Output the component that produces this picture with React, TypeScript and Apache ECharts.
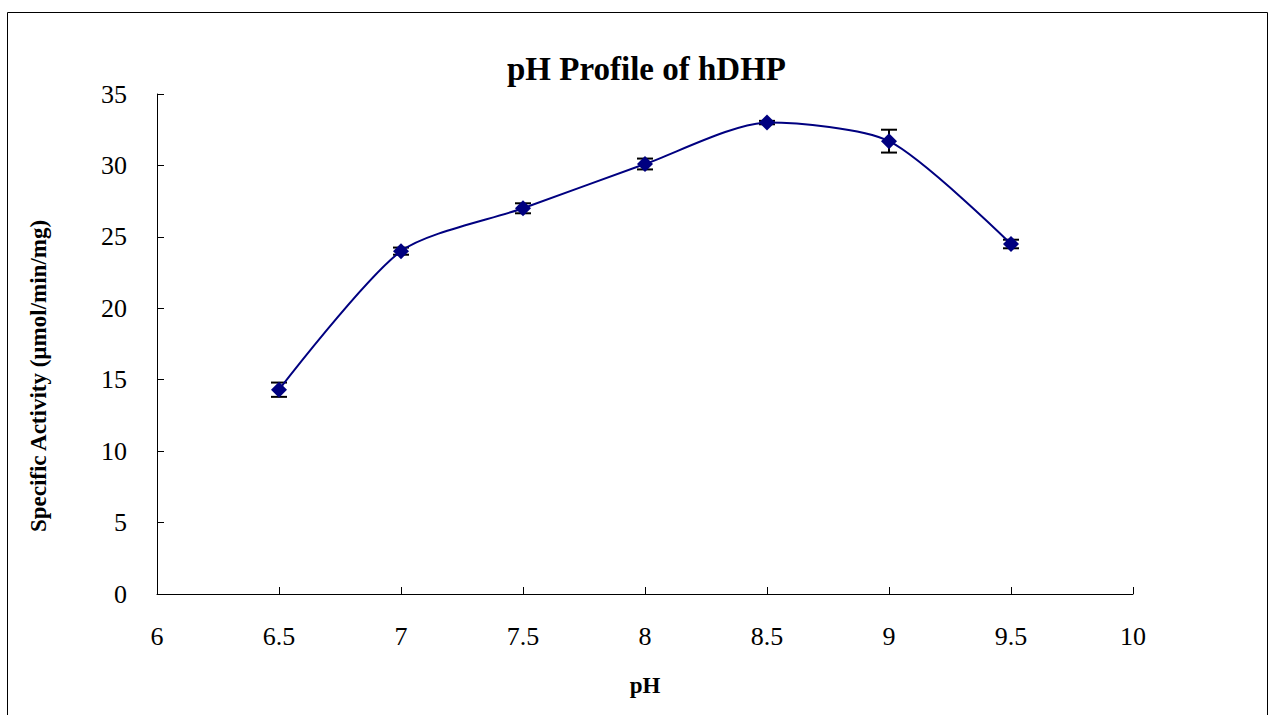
import React, { useEffect, useRef } from "react";
import * as echarts from "echarts";

const phValues = [6.5, 7, 7.5, 8, 8.5, 9, 9.5];
const activity = [14.3, 24.0, 27.0, 30.1, 33.0, 31.7, 24.5];
const errors = [0.5, 0.25, 0.35, 0.38, 0.12, 0.8, 0.3];
const titleText = "pH Profile of hDHP";
const xName = "pH";
const yName = "Specific Activity (µmol/min/mg)";

const FONT = "'Liberation Serif', 'Times New Roman', serif";

export default function App() {
  const ref = useRef<HTMLDivElement>(null);
  useEffect(() => {
    if (!ref.current) return;
    const chart = echarts.init(ref.current, null, { renderer: "svg" });
    const lineData = phValues.map((x, i) => [x, activity[i]]);
    const errData = phValues.map((x, i) => [x, activity[i] - errors[i], activity[i] + errors[i]]);
    chart.setOption({
      animation: false,
      backgroundColor: "#ffffff",
      title: {
        text: titleText,
        left: 502,
        top: 47,
        textStyle: { fontFamily: FONT, fontSize: 33, fontWeight: "bold", color: "#000" },
      },
      graphic: [
        {
          type: "rect",
          shape: { x: 7.5, y: 12.5, width: 1260, height: 720 },
          style: { fill: "none", stroke: "#000", lineWidth: 1 },
          silent: true,
        },
        {
          type: "text",
          x: 38,
          y: 376,
          rotation: Math.PI / 2,
          style: {
            text: yName,
            fontFamily: FONT,
            fontSize: 23,
            fontWeight: "bold",
            fill: "#000",
            align: "center",
            verticalAlign: "middle",
          },
          silent: true,
        },
      ],
      grid: { left: 157, right: 139, top: 94, bottom: 121 },
      xAxis: {
        type: "value",
        min: 6,
        max: 10,
        interval: 0.5,
        name: xName,
        nameLocation: "middle",
        nameGap: 80,
        nameTextStyle: { fontFamily: FONT, fontSize: 23, fontWeight: "bold", color: "#000" },
        axisLine: { show: true, lineStyle: { color: "#000", width: 1 } },
        axisTick: { show: true, inside: true, length: 7, lineStyle: { color: "#000" } },
        axisLabel: { fontFamily: FONT, fontSize: 26, color: "#000", margin: 29 },
        splitLine: { show: false },
      },
      yAxis: {
        type: "value",
        min: 0,
        max: 35,
        interval: 5,
        axisLine: { show: true, lineStyle: { color: "#000", width: 1 } },
        axisTick: { show: true, inside: true, length: 7, lineStyle: { color: "#000" } },
        axisLabel: { fontFamily: FONT, fontSize: 26, color: "#000", margin: 30 },
        splitLine: { show: false },
      },
      series: [
        {
          type: "line",
          data: lineData,
          smooth: 0.25,
          symbol: "diamond",
          symbolSize: 16,
          lineStyle: { color: "#000080", width: 2 },
          itemStyle: { color: "#000080" },
          z: 3,
        },
        {
          type: "custom",
          data: errData,
          z: 2,
          renderItem: (params: any, api: any) => {
            const x = api.value(0);
            const lo = api.coord([x, api.value(1)]);
            const hi = api.coord([x, api.value(2)]);
            const hw = 8;
            const style = { stroke: "#000", lineWidth: 2 };
            return {
              type: "group",
              children: [
                { type: "line", shape: { x1: lo[0], y1: lo[1], x2: hi[0], y2: hi[1] }, style },
                { type: "line", shape: { x1: lo[0] - hw, y1: lo[1], x2: lo[0] + hw, y2: lo[1] }, style },
                { type: "line", shape: { x1: hi[0] - hw, y1: hi[1], x2: hi[0] + hw, y2: hi[1] }, style },
              ],
            };
          },
        },
      ],
    });
    return () => chart.dispose();
  }, []);
  return (
    <div
      ref={ref}
      style={{ position: "absolute", left: 0, top: 0, width: 1272, height: 715 }}
    />
  );
}
